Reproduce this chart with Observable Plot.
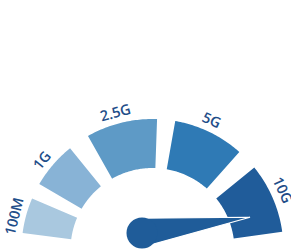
<!DOCTYPE html>
<html>
<head>
<meta charset="utf-8">
<script src="https://cdn.jsdelivr.net/npm/d3@7"></script>
<script src="https://cdn.jsdelivr.net/npm/@observablehq/plot@0.6"></script>
<style>
  html, body { margin: 0; padding: 0; background: #fff; }
  svg { display: block; }
</style>
</head>
<body>
<div id="chart"></div>
<script>
// ---- data ----
const categories = ["100M", "1G", "2.5G", "5G", "10G"];
// segment angles in degrees (0 = straight up, clockwise positive)
const startAngles = [-82.5, -59.8, -29.5, 10, 51];
const endAngles = [-66.8, -39, 2, 41.5, 82];
// needle direction (degrees, same convention)
const needleAngle = 82;

// ---- styles / geometry ----
const colors = ["#a9c8df", "#88b3d6", "#5e9ac6", "#2f7ab5", "#205c9a"];
const innerR = 82, outerR = 131, labelR = 142.5, labelShift = -1.5;
const needleColor = "#1f5c99";
const textColor = "#1f4e89";
const hub = {x: -11, y: 17.5, r: 15.5};
const needleLen = 109.6, needleHalf = 14.5;

const rad = d => d * Math.PI / 180;

// annular segment outlines
const arcPts = [];
categories.forEach((c, i) => {
  const n = 40;
  for (let k = 0; k <= n; k++) {
    const a = rad(startAngles[i] + (endAngles[i] - startAngles[i]) * k / n);
    arcPts.push({cat: c,
      x1: innerR * Math.sin(a), y1: innerR * Math.cos(a),
      x2: outerR * Math.sin(a), y2: outerR * Math.cos(a)});
  }
});

// labels
const labels = categories.map((c, i) => {
  const m = (startAngles[i] + endAngles[i]) / 2 + labelShift;
  return {cat: c, rot: m, x: labelR * Math.sin(rad(m)), y: labelR * Math.cos(rad(m))};
});

// needle
const na = rad(needleAngle);
const dir = [Math.sin(na), Math.cos(na)];
const perp = [-dir[1], dir[0]];
const tip = {x: hub.x + needleLen * dir[0], y: hub.y + needleLen * dir[1]};
const needle = [
  {x1: hub.x + needleHalf * perp[0], y1: hub.y + needleHalf * perp[1],
   x2: hub.x - needleHalf * perp[0], y2: hub.y - needleHalf * perp[1]},
  {x1: tip.x, y1: tip.y, x2: tip.x, y2: tip.y}
];

const chart = Plot.plot({
  width: 291,
  height: 252,
  margin: 0,
  x: {domain: [-152.5, 138.5], axis: null},
  y: {domain: [-2, 250], axis: null},
  color: {domain: categories, range: colors},
  style: {background: "#fff", fontFamily: "'Open Sans', sans-serif"},
  marks: [
    Plot.area(arcPts, {x1: "x1", y1: "y1", x2: "x2", y2: "y2", z: "cat", fill: "cat"}),
    Plot.area(needle, {x1: "x1", y1: "y1", x2: "x2", y2: "y2", fill: needleColor, stroke: "#fff", strokeWidth: 1.2, strokeLinejoin: "miter"}),
    Plot.dot([hub], {x: "x", y: "y", r: hub.r, fill: needleColor}),
    Plot.text(labels, {x: "x", y: "y", text: "cat", rotate: "rot", fontSize: 14.5, fontWeight: 600, fill: textColor})
  ]
});
document.getElementById("chart").appendChild(chart);
</script>
</body>
</html>
